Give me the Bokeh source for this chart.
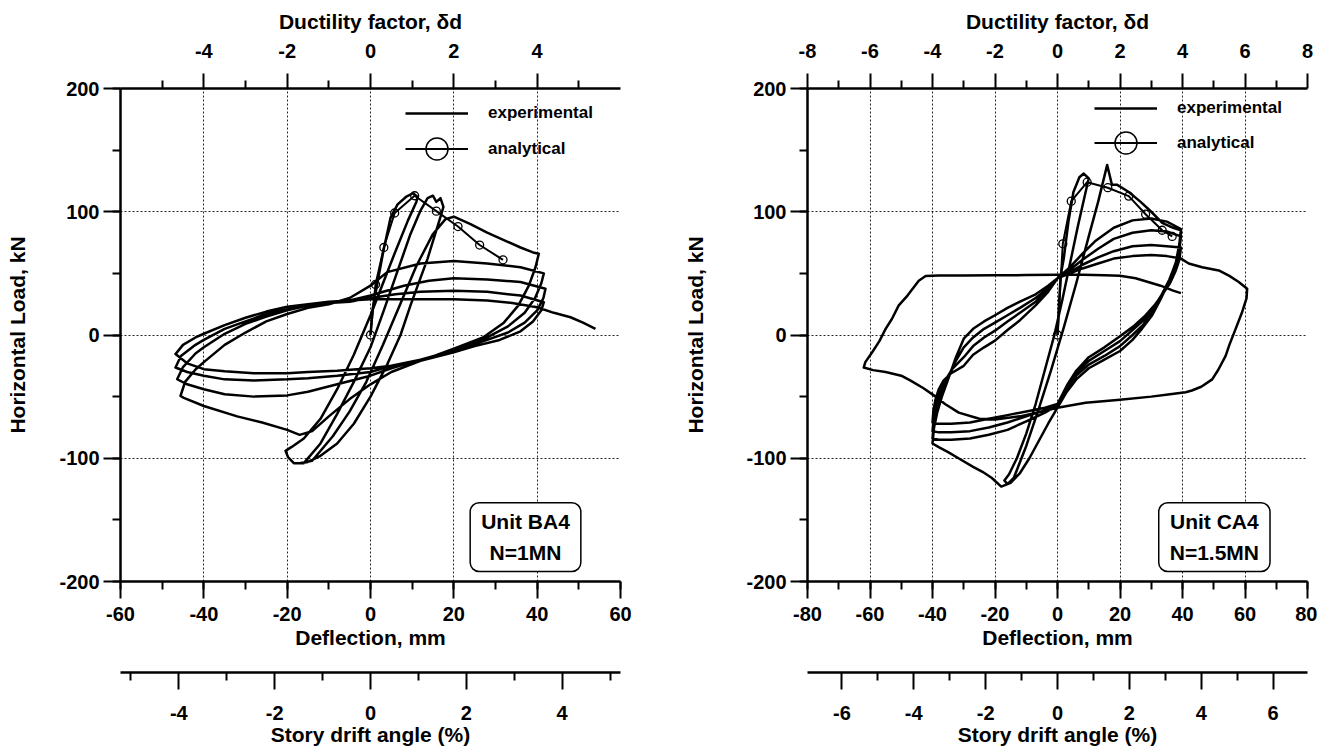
from bokeh.plotting import figure
from bokeh.models import (Range1d, LinearAxis, FixedTicker, SingleIntervalTicker,
                          Label, Legend, LegendItem, CustomJSTickFormatter)
from bokeh.layouts import row, column
from bokeh.embed import file_html
from bokeh.resources import INLINE

FONT = "Liberation Sans"

# ---------------- Unit BA4 (N = 1 MN) : experimental branches (mm, kN) ----------------
ba4_initial = [(0, 0), (0.5, 21), (1.7, 43), (3.2, 70), (4.8, 95), (6.5, 106), (8.5, 112), (10.2, 115), (11.3, 112)]
ba4_unload1 = [(11, 108), (9, 93), (6, 68), (3, 42), (0, 16), (-4, -16), (-8, -44), (-12, -68), (-16, -84),
               (-19, -91), (-20.4, -94), (-19.8, -99)]
ba4_reload2 = [(-18.4, -104), (-16, -104), (-12, -88), (-8, -64), (-4, -38), (0, -10), (3.2, 20), (6.5, 52),
               (9.6, 82), (12, 101), (13.7, 111), (15, 113), (15.8, 108), (16.8, 111), (17.5, 104)]
ba4_unload2 = [(17, 98), (13.7, 62), (9.6, 24), (7.2, 0), (4, -24), (0, -50), (-4, -72), (-8, -88),
               (-12, -98), (-15, -103), (-17, -104)]
ba4_envelope = [(-14, -102), (-9, -82), (-5, -62), (-1, -38), (3, -8), (7, 24), (11, 56), (15, 82), (18, 94),
                (20, 96), (24, 90), (28, 83), (32, 77), (36, 71), (39, 67), (40.4, 66)]
ba4_lb1 = [(39.6, 55), (38, 40), (35.5, 24), (32, 10), (27, -2), (20, -11), (12, -21), (5, -30), (0, -40),
           (-5, -52), (-10, -66), (-14, -78), (-17, -81), (-20, -77), (-26, -71), (-32, -66), (-40, -57.6),
           (-44.8, -51), (-45.6, -49.5)]
ba4_ub1 = [(-44.5, -38), (-42, -28), (-40, -22), (-35, -8), (-30, 2), (-25, 11), (-20, 17), (-15, 22),
           (-10, 25), (-5, 30), (0, 40), (4, 51), (12, 58), (20, 60), (28, 58), (36, 55), (41.6, 50)]
ba4_lb2 = [(41, 42), (39.5, 30), (37, 18), (33, 7), (28, -2), (20, -12.5), (12, -20), (5, -27), (0, -33),
           (-8, -40), (-15, -46), (-20, -49), (-28, -50), (-35, -48), (-40, -44), (-44, -40), (-46.4, -35.9)]
ba4_ub2 = [(-45, -26), (-42, -15), (-40, -10), (-35, 1), (-30, 9), (-25, 15), (-20, 20), (-15, 24),
           (-10, 26), (-5, 28), (0, 32), (8, 40), (14, 44), (20, 46), (28, 45), (36, 43), (42, 37.5)]
ba4_lb3 = [(41.5, 30), (40, 20), (37, 10), (33, 2), (28, -4), (20, -13), (12, -20), (5, -25), (0, -30),
           (-8, -33), (-15, -35), (-20, -36), (-28, -37), (-35, -36), (-40, -33), (-44, -30), (-46.8, -26.4)]
ba4_ub3 = [(-45.5, -17), (-42, -8), (-40, -4), (-35, 5), (-30, 11), (-25, 17), (-20, 21), (-15, 24),
           (-10, 26), (-5, 27), (0, 30), (6, 33), (12, 35), (20, 36), (28, 35), (36, 32), (41.6, 26.6)]
ba4_lb4 = [(41, 20), (39, 11), (36, 3), (31, -4), (25, -9), (20, -14), (12, -21), (5, -25), (0, -27),
           (-8, -29), (-15, -30), (-20, -31), (-28, -31), (-35, -29.5), (-40, -27.7), (-44, -23), (-46.8, -15.5)]
ba4_ub4 = [(-45, -8), (-42, -2), (-40, 1), (-35, 8), (-30, 14), (-25, 19), (-20, 23), (-15, 25), (-10, 27),
           (-5, 28), (0, 29), (8, 29), (20, 29), (28, 28), (34, 26), (40, 22.5), (44, 18), (48, 14.4),
           (51, 10), (54, 4.9)]
ba4_analytical_x = [0, 1.2, 3.2, 5.8, 10.6, 15.8, 21, 26.2, 31.8]
ba4_analytical_y = [0, 41, 71, 99, 113, 100.5, 88, 73, 61]

# ---------------- Unit CA4 (N = 1.5 MN) : experimental branches (mm, kN) ----------------
ca4_initial = [(0, 0), (0.5, 25), (1, 48), (2, 62), (3.5, 92), (5.1, 116), (7, 128), (8.4, 131), (10, 127)]
ca4_unload1 = [(9, 116), (6.5, 88), (4, 58), (1.5, 28), (-1, 0), (-4, -28), (-7, -56), (-10, -80),
               (-13, -100), (-15.5, -113), (-17, -118), (-16, -121)]
ca4_reload2 = [(-14, -116), (-10, -90), (-6, -60), (-2, -28), (2, 6), (6, 42), (10, 80), (13, 108), (15.9, 138)]
ca4_envelope = [(17.4, 122), (19, 122), (22.8, 116), (26.6, 108), (30, 100), (33.5, 91), (37, 87), (39.5, 85)]
ca4_lb1 = [(39.3, 75), (38, 60), (35.6, 43), (33, 29), (30.3, 16), (27, 5), (24, -4), (20, -13), (15, -20),
           (10, -27), (6, -36), (3, -46), (0, -59), (-3, -72), (-6, -86), (-9, -100), (-12, -112),
           (-15, -120), (-18, -123)]
ca4_neg_env = [(-21, -116), (-24, -111), (-27, -107), (-31, -101), (-35, -95), (-38, -91), (-40, -88)]
ca4_ub1 = [(-39.5, -75), (-38.5, -63), (-37, -50), (-35, -36), (-32.5, -18), (-30, -3), (-27, 5), (-23.5, 11),
           (-20, 16), (-16, 22), (-12, 27), (-7, 33), (-3, 40), (0, 46), (4, 55), (8, 66), (12, 76), (18, 87),
           (24, 93), (30, 94.6), (35, 92), (39.5, 86)]
ca4_lb2 = [(39, 74), (37.8, 58), (35.8, 45), (33.2, 32), (30.5, 19), (27.3, 8), (24, 0), (20, -9), (15, -17),
           (10, -24), (6, -33), (3, -44), (0, -57), (-4, -63), (-10, -70), (-16, -77), (-22, -81), (-28, -84),
           (-34, -85), (-38, -85), (-40, -84)]
ca4_ub2 = [(-39.6, -72), (-38.6, -61), (-37.2, -49), (-35.5, -37), (-33, -23), (-30, -10), (-27, -2),
           (-23.5, 5), (-20, 10), (-16, 16), (-12, 22), (-7, 30), (-3, 38), (0, 46), (4, 53), (8, 61), (13, 70),
           (18, 78), (24, 83), (30, 85), (35, 84), (39.5, 80)]
ca4_lb3 = [(39, 69), (37.6, 55), (35.8, 44), (33.4, 33), (30.7, 22), (27.5, 12), (24, 4), (20, -5), (15, -13),
           (10, -21), (6, -31), (3, -43), (0, -57), (-4, -61), (-10, -66), (-16, -71), (-22, -75), (-28, -78),
           (-34, -79), (-38, -79), (-40, -78)]
ca4_ub3 = [(-39.6, -67), (-38.8, -57), (-37.6, -47), (-36, -37), (-33.5, -27), (-30, -18), (-27, -9),
           (-23.5, -2), (-20, 3.5), (-16, 11), (-12, 18), (-7, 27), (-3, 37), (0, 46), (4, 51), (8, 57),
           (13, 63), (18, 68), (24, 72), (30, 73), (35, 72), (39.5, 71)]
ca4_lb4 = [(39, 61), (37.8, 52), (36, 42), (33.6, 33), (31, 24), (27.8, 15), (24.3, 7), (20, -1), (15, -10),
           (10, -18), (6, -29), (3, -41), (0, -56), (-4, -59), (-10, -62), (-16, -65), (-22, -68), (-28, -71),
           (-34, -72), (-38, -72), (-40, -71)]
ca4_ub4 = [(-39.7, -61), (-39, -52), (-38, -44), (-36.5, -37), (-34, -31), (-30, -25), (-27, -16),
           (-23.5, -10), (-20, -4.6), (-16, 4), (-12, 12), (-7, 24), (-3, 35), (0, 46), (4, 50), (8, 54),
           (13, 58), (18, 62), (24, 64), (30, 65), (35, 64), (39.5, 62)]
ca4_outer = [(42, 58), (46.3, 55), (51.6, 52.4), (55, 48), (58, 43), (60.7, 37.5), (60.5, 30), (59, 18), (57, 5),
             (55, -8), (53.8, -17), (51.5, -28), (49.5, -36), (46, -42), (43, -45), (41, -46.5), (36, -48),
             (30, -50), (20, -52.5), (9, -55), (0, -59), (-5, -62), (-12, -66), (-20, -68.5), (-25, -68),
             (-31.6, -63), (-36, -56), (-39, -50), (-43, -43), (-47, -37), (-50, -33), (-55, -30), (-59, -28.5),
             (-62, -26.4), (-61.5, -22), (-59.3, -14), (-57, -5), (-55, 5), (-53, 13), (-50.8, 24), (-48, 32),
             (-44.4, 44), (-42.2, 47.8), (-38, 48.3), (-30, 48.3), (-20, 48.5), (-10, 48.6), (0, 48.9), (8, 48.8),
             (15, 48.5), (20, 48), (25, 46), (29, 43), (33, 40), (37, 36), (39.5, 34)]
ca4_analytical_x = [0, 1.7, 4.4, 9.5, 16.1, 22.8, 28.2, 33.5, 36.7]
ca4_analytical_y = [0, 74, 108.6, 124, 119.5, 112.7, 98, 85, 80]

# ---------------- axis tick definitions ----------------
ba4_duct_ticks = [-4, -2, 0, 2, 4]
ba4_duct_minor = [-5, -3, -1, 1, 3, 5]
ba4_drift_ticks = [-4, -2, 0, 2, 4]
ba4_drift_minor = [-5, -3, -1, 1, 3, 5]
ca4_duct_ticks = [-8, -6, -4, -2, 0, 2, 4, 6, 8]
ca4_duct_minor = [-7, -5, -3, -1, 1, 3, 5, 7]
ca4_drift_ticks = [-6, -4, -2, 0, 2, 4, 6]
ca4_drift_minor = [-5, -3, -1, 1, 3, 5]
MM_PER_DUCTILITY = 10.0
MM_PER_DRIFT_PERCENT = 11.5

FRAME_W = 500
TOP_BORDER = 88
MAIN_H = 651      # top scale + plot frame + deflection scale
DRIFT_H = 97      # separate strip carrying the story-drift scale


def path_xy(branches):
    xs, ys = [], []
    for b in branches:
        for x, y in b:
            xs.append(x)
            ys.append(y)
    return xs, ys


def style_axis(ax, tick_out=17, minor_out=8):
    ax.formatter = CustomJSTickFormatter(code="return String(tick)")
    ax.axis_line_width = 2.5
    ax.axis_line_color = "black"
    ax.major_tick_line_width = 2
    ax.minor_tick_line_width = 2
    ax.major_tick_line_color = "black"
    ax.minor_tick_line_color = "black"
    ax.major_tick_in = 0
    ax.minor_tick_in = 0
    ax.major_tick_out = tick_out
    ax.minor_tick_out = minor_out
    ax.major_label_text_font = FONT
    ax.major_label_text_font_style = "bold"
    ax.major_label_text_font_size = "20px"
    ax.major_label_text_color = "black"
    ax.axis_label_text_font = FONT
    ax.axis_label_text_font_style = "bold"
    ax.axis_label_text_font_size = "21px"
    ax.axis_label_text_color = "black"


def style_legend(lg, glyph_h):
    lg.glyph_width = 63
    lg.glyph_height = glyph_h
    lg.label_standoff = 20
    lg.padding = 0
    lg.margin = 0
    lg.border_line_color = None
    lg.background_fill_alpha = 0
    lg.label_text_font = FONT
    lg.label_text_font_style = "bold"
    lg.label_text_font_size = "17px"
    lg.label_text_color = "black"


def make_panel(border_left, border_right, xlim, duct_ticks, duct_minor, drift_ticks, drift_minor,
               exp_branches, ana_x, ana_y, leg_exp_loc, leg_ana_loc, box_xy, box_text, ytitle_standoff):
    width = border_left + FRAME_W + border_right
    p = figure(width=width, height=MAIN_H, x_range=Range1d(-xlim, xlim), y_range=Range1d(-200, 200),
               output_backend="svg", toolbar_location=None,
               min_border_left=border_left, min_border_right=border_right,
               min_border_top=TOP_BORDER, min_border_bottom=0)
    p.outline_line_color = None
    p.background_fill_color = "white"
    p.border_fill_color = "white"

    xt = SingleIntervalTicker(interval=20, num_minor_ticks=2)
    yt = SingleIntervalTicker(interval=100, num_minor_ticks=2)
    p.xaxis.ticker = xt
    p.xgrid.ticker = xt
    p.yaxis.ticker = yt
    p.ygrid.ticker = yt
    for g in (p.xgrid[0], p.ygrid[0]):
        g.grid_line_color = "black"
        g.grid_line_dash = "2 2"
        g.grid_line_width = 1
        g.grid_line_alpha = 0.85

    xa = p.xaxis[0]
    style_axis(xa)
    xa.axis_label = "Deflection, mm"
    xa.major_label_standoff = 8
    xa.axis_label_standoff = 2

    ya = p.yaxis[0]
    style_axis(ya)
    ya.axis_label = "Horizontal Load, kN"
    ya.major_label_standoff = 4
    ya.axis_label_standoff = ytitle_standoff

    p.extra_x_ranges = {"duct": Range1d(-xlim / MM_PER_DUCTILITY, xlim / MM_PER_DUCTILITY)}
    top = LinearAxis(x_range_name="duct", ticker=FixedTicker(ticks=duct_ticks, minor_ticks=duct_minor),
                     axis_label="Ductility factor, δd")
    style_axis(top, tick_out=15, minor_out=8)
    top.major_label_standoff = 16
    top.axis_label_standoff = 8
    p.add_layout(top, "above")

    ex, ey = path_xy(exp_branches)
    r_exp = p.line(ex, ey, line_color="black", line_width=2.5, line_join="round")
    r_ana = p.line(ana_x, ana_y, line_color="black", line_width=2)
    p.scatter(ana_x, ana_y, marker="circle", size=8, fill_color=None, line_color="black", line_width=1.3)
    # legend-only symbol (not plotted: NaN position)
    r_big = p.scatter(x=[float("nan")], y=[float("nan")], marker="circle", size=22, fill_color=None,
                      line_color="black", line_width=1.5)

    leg_exp = Legend(items=[LegendItem(label="experimental", renderers=[r_exp])], location=leg_exp_loc)
    style_legend(leg_exp, 20)
    leg_ana = Legend(items=[LegendItem(label="analytical", renderers=[r_ana, r_big])], location=leg_ana_loc)
    style_legend(leg_ana, 55)
    p.add_layout(leg_exp)
    p.add_layout(leg_ana)

    box = Label(x=box_xy[0], y=box_xy[1], text=box_text, text_align="center", text_baseline="middle",
                text_font=FONT, text_font_style="bold", text_font_size="21px", text_line_height=1.38,
                text_color="black", border_line_color="black", border_line_width=1.5, border_radius=9,
                background_fill_color="white", padding=dict(left=11, right=11, top=7, bottom=7))
    p.add_layout(box)

    # strip below with the story drift angle scale (same horizontal frame as the plot)
    d = figure(width=width, height=DRIFT_H,
               x_range=Range1d(-xlim / MM_PER_DRIFT_PERCENT, xlim / MM_PER_DRIFT_PERCENT),
               y_range=Range1d(0, 1), output_backend="svg", toolbar_location=None,
               y_axis_location=None, min_border_left=border_left, min_border_right=border_right,
               min_border_top=16, min_border_bottom=0)
    d.outline_line_color = None
    d.xgrid.visible = False
    d.ygrid.visible = False
    d.border_fill_color = "white"
    da = d.xaxis[0]
    da.ticker = FixedTicker(ticks=drift_ticks, minor_ticks=drift_minor)
    style_axis(da)
    da.axis_label = "Story drift angle (%)"
    da.major_label_standoff = 16
    da.axis_label_standoff = 0
    return column(p, d, spacing=0)


ba4_branches = [ba4_initial, ba4_unload1, ba4_reload2, ba4_unload2, ba4_envelope, ba4_lb1, ba4_ub1,
                ba4_lb2, ba4_ub2, ba4_lb3, ba4_ub3, ba4_lb4, ba4_ub4]
ca4_branches = [ca4_initial, ca4_unload1, ca4_reload2, ca4_envelope, ca4_lb1, ca4_neg_env, ca4_ub1,
                ca4_lb2, ca4_ub2, ca4_lb3, ca4_ub3, ca4_lb4, ca4_ub4, ca4_outer]

left_panel = make_panel(120, 40, 60, ba4_duct_ticks, ba4_duct_minor, ba4_drift_ticks, ba4_drift_minor,
                        ba4_branches, ba4_analytical_x, ba4_analytical_y, (285, 458), (285, 405),
                        (37.2, -164), "Unit BA4\nN=1MN", 27)
right_panel = make_panel(147, 10, 80, ca4_duct_ticks, ca4_duct_minor, ca4_drift_ticks, ca4_drift_minor,
                         ca4_branches, ca4_analytical_x, ca4_analytical_y, (287, 463), (287, 411),
                         (50.2, -164), "Unit CA4\nN=1.5MN", 36)

layout = row(left_panel, right_panel, spacing=0)
open("out.html", "w").write(file_html(layout, INLINE))
